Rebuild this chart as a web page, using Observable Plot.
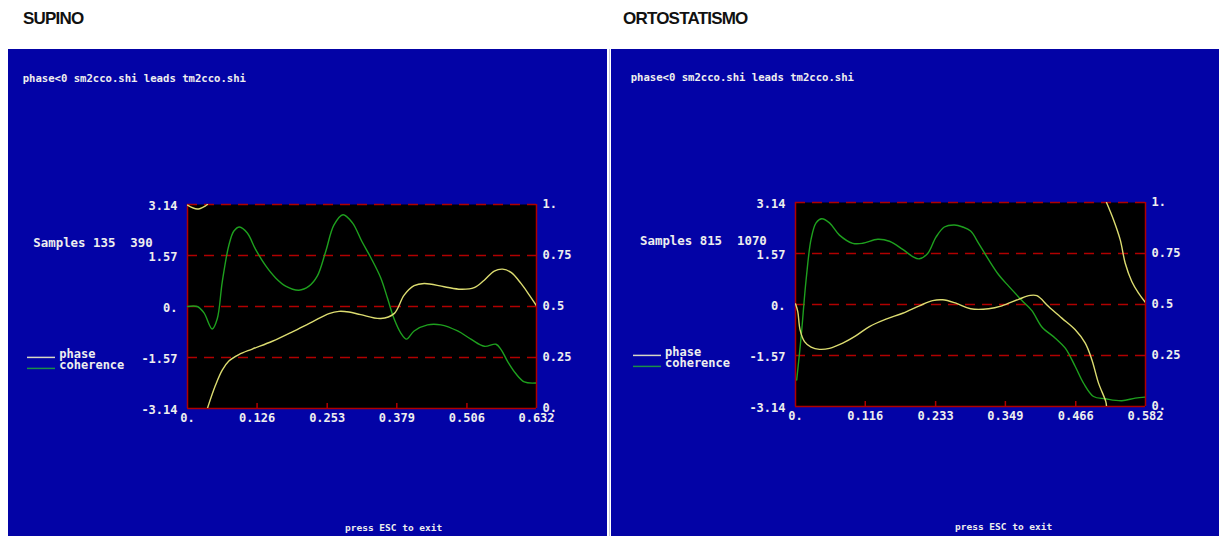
<!DOCTYPE html>
<html>
<head>
<meta charset="utf-8">
<script src="https://cdn.jsdelivr.net/npm/d3@7"></script>
<script src="https://cdn.jsdelivr.net/npm/@observablehq/plot@0.6"></script>
<style>
  html, body { margin: 0; padding: 0; background: #ffffff; }
  #page { position: relative; width: 1219px; height: 536px; overflow: hidden; background: #ffffff; }
  .title {
    position: absolute; top: 9px; line-height: 20px;
    font-family: "Liberation Sans", Arial, sans-serif; font-weight: bold;
    font-size: 17px; letter-spacing: -0.8px; color: #111111;
  }
  .panel { position: absolute; top: 49px; height: 487px; background: #0303a6; }
  .panel svg { display: block; }
  #divider { position: absolute; left: 609px; top: 49px; width: 1px; height: 487px; background: #c9c9d6; }
</style>
</head>
<body>
<div id="page">
  <div class="title" style="left:23px">SUPINO</div>
  <div class="title" style="left:623px">ORTOSTATISMO</div>
  <div class="panel" id="supino" style="left:8px;width:599px"></div>
  <div id="divider"></div>
  <div class="panel" id="orto" style="left:611px;width:608px"></div>
</div>
<script>
// ---- shared axis ticks ----
const phaseTicks = [3.14, 1.57, 0, -1.57, -3.14];
const phaseLabels = ["3.14", "1.57", "0.", "-1.57", "-3.14"];
const cohTicks = [1, 0.75, 0.5, 0.25, 0];
const cohLabels = ["1.", "0.75", "0.5", "0.25", "0."];

// ---- SUPINO (samples 135-390) ----
const supinoXTicks = [0, 0.126, 0.253, 0.379, 0.506, 0.632];
const supinoXLabels = ["0.", "0.126", "0.253", "0.379", "0.506", "0.632"];
// phase wraps from +pi to -pi near the start; null splits the trace
const supinoPhaseFreq = [0, 0.0176, 0.0326, 0.036, 0.036, 0.036, 0.0508, 0.0629, 0.0749, 0.0930, 0.1173,
  0.1536, 0.1899, 0.2261, 0.2562, 0.2744, 0.2925, 0.3137, 0.3500, 0.3741, 0.3923,
  0.4104, 0.4285, 0.4648, 0.4951, 0.5192, 0.5374, 0.5555, 0.5707, 0.5859, 0.6039, 0.6190, 0.632];
const supinoPhase = [3.12, 3.00, 3.10, 3.14, null, -3.14, -2.42, -1.96, -1.68, -1.48, -1.31,
  -1.07, -0.78, -0.47, -0.22, -0.15, -0.17, -0.25, -0.37, -0.22, 0.35,
  0.64, 0.71, 0.61, 0.53, 0.58, 0.81, 1.09, 1.15, 1.05, 0.71, 0.35, 0.02];
const supinoCohFreq = [0, 0.0176, 0.0296, 0.0448, 0.0539, 0.0629, 0.0749, 0.0840, 0.0943, 0.1083,
  0.1233, 0.1415, 0.1596, 0.1777, 0.2018, 0.2200, 0.2352, 0.2503, 0.2653, 0.2816,
  0.2987, 0.3156, 0.3319, 0.3500, 0.3622, 0.3741, 0.3863, 0.3966, 0.4104, 0.4347,
  0.4588, 0.4891, 0.5132, 0.5374, 0.5586, 0.5676, 0.5798, 0.5948, 0.6099, 0.632];
const supinoCoh = [0.50, 0.50, 0.47, 0.39, 0.44, 0.62, 0.80, 0.87, 0.89, 0.86,
  0.78, 0.70, 0.64, 0.60, 0.58, 0.60, 0.65, 0.77, 0.90, 0.95,
  0.91, 0.82, 0.74, 0.64, 0.54, 0.44, 0.37, 0.34, 0.38, 0.41,
  0.41, 0.38, 0.34, 0.305, 0.315, 0.29, 0.23, 0.17, 0.13, 0.125];

// ---- ORTOSTATISMO (samples 815-1070) ----
const ortoXTicks = [0, 0.116, 0.233, 0.349, 0.466, 0.582];
const ortoXLabels = ["0.", "0.116", "0.233", "0.349", "0.466", "0.582"];
const ortoPhaseFreq = [0, 0.0038, 0.0076, 0.0150, 0.0259, 0.0399, 0.0565, 0.0786, 0.1007, 0.1229,
  0.1505, 0.1783, 0.2060, 0.2281, 0.2447, 0.2668, 0.2912, 0.3211, 0.3432, 0.3710,
  0.3904, 0.4014, 0.4208, 0.4429, 0.4652, 0.4818, 0.4928, 0.5039, 0.5160, 0.5172,
  0.5172, 0.5172, 0.5288, 0.5400, 0.5483, 0.5592, 0.5704, 0.582];
const ortoPhase = [0.02, -0.22, -0.78, -1.14, -1.31, -1.38, -1.35, -1.19, -0.96, -0.68,
  -0.45, -0.27, -0.04, 0.12, 0.145, 0.04, -0.13, -0.13, -0.04, 0.16,
  0.28, 0.27, -0.06, -0.42, -0.78, -1.19, -1.70, -2.42, -2.99, -3.14,
  null, 3.14, 2.61, 1.99, 1.27, 0.71, 0.35, 0.06];
const ortoCohFreq = [0.002, 0.0093, 0.0176, 0.0259, 0.0342, 0.0437, 0.0565, 0.0731, 0.0952, 0.1118,
  0.1367, 0.1562, 0.1783, 0.1949, 0.2060, 0.2198, 0.2336, 0.2475, 0.2642, 0.2780,
  0.2912, 0.3045, 0.3211, 0.3378, 0.3544, 0.3765, 0.3931, 0.4097, 0.4320, 0.4486,
  0.4652, 0.4790, 0.4956, 0.5150, 0.5426, 0.5649, 0.582];
const ortoCoh = [0.13, 0.34, 0.62, 0.82, 0.90, 0.92, 0.90, 0.84, 0.80, 0.80,
  0.82, 0.81, 0.77, 0.735, 0.724, 0.75, 0.83, 0.88, 0.89, 0.88,
  0.86, 0.80, 0.72, 0.646, 0.59, 0.52, 0.47, 0.39, 0.335, 0.286,
  0.196, 0.114, 0.049, 0.038, 0.028, 0.041, 0.046];

// ---- styling ----
const BLUE = "#0303a6";
const RED = "#b00000";
const YELLOW = "#dcdc70";
const GREEN = "#1ea01e";
const TEXT = "#eeeeee";
const MONO = "'DejaVu Sans Mono', monospace";
const PHASE_MIN = -3.14, PHASE_MAX = 3.14;

// coherence (0..1) is drawn against the phase scale, with its own axis on the right
const cohToPhase = c => PHASE_MIN + c * (PHASE_MAX - PHASE_MIN);

function drawPanel(el, cfg) {
  const frameH = cfg.height - cfg.marginTop - cfg.marginBottom;
  const xMax = cfg.xTicks[cfg.xTicks.length - 1];
  const xLabel = new Map(cfg.xTicks.map((t, i) => [t, cfg.xLabels[i]]));
  const yLabel = new Map(phaseTicks.map((t, i) => [t, phaseLabels[i]]));
  const cohPos = cohTicks.map(cohToPhase);
  const cLabel = new Map(cohPos.map((t, i) => [t, cohLabels[i]]));

  const svg = Plot.plot({
    width: cfg.width,
    height: cfg.height,
    marginLeft: cfg.marginLeft,
    marginRight: cfg.marginRight,
    marginTop: cfg.marginTop,
    marginBottom: cfg.marginBottom,
    style: {background: BLUE, color: TEXT, fontFamily: MONO, fontWeight: "bold", fontSize: "12px", overflow: "visible"},
    x: {domain: [0, xMax]},
    y: {domain: [PHASE_MIN, PHASE_MAX]},
    marks: [
      Plot.frame({fill: "black"}),
      Plot.ruleY(phaseTicks.slice(0, -1), {stroke: RED, strokeWidth: 1.5, strokeDasharray: "10,7"}),
      Plot.ruleY([PHASE_MIN], {stroke: RED, strokeWidth: 1.5}),
      Plot.ruleX([0, xMax], {stroke: RED, strokeWidth: 1.5}),
      Plot.ruleX(cfg.xTicks.slice(1, -1), {stroke: RED, strokeWidth: 1.5, insetTop: frameH - 5}),
      Plot.line(d3.range(cfg.cohFreq.length), {
        x: i => cfg.cohFreq[i], y: i => cohToPhase(cfg.coh[i]),
        stroke: GREEN, strokeWidth: 1.4, curve: "catmull-rom", clip: true
      }),
      Plot.line(d3.range(cfg.phaseFreq.length), {
        x: i => cfg.phaseFreq[i], y: i => cfg.phase[i],
        stroke: YELLOW, strokeWidth: 1.4, curve: "catmull-rom", clip: true
      }),
      Plot.axisX(cfg.xTicks, {tickFormat: d => xLabel.get(d), tickSize: 0, tickPadding: 5, label: null}),
      Plot.axisY(phaseTicks, {anchor: "left", tickFormat: d => yLabel.get(d), tickSize: 0, tickPadding: 10, dy: 2, label: null}),
      Plot.axisY(cohPos, {anchor: "right", tickFormat: d => cLabel.get(d), tickSize: 0, tickPadding: 6, dy: 0, label: null})
    ]
  });

  // header, sample range, legend and footer
  const g = d3.select(svg).append("g")
    .attr("font-family", MONO).attr("font-weight", "bold").attr("fill", TEXT)
    .attr("text-anchor", "start");
  g.append("text").attr("x", cfg.header[0]).attr("y", cfg.header[1])
    .attr("font-size", 10.6).text("phase<0 sm2cco.shi leads tm2cco.shi");
  g.append("text").attr("x", cfg.samples[0]).attr("y", cfg.samples[1])
    .attr("font-size", 12.4).style("white-space", "pre")
    .text(cfg.samplesText);
  const legend = [["phase", "#d8d8c4"], ["coherence", "#1a9048"]];
  legend.forEach(([name, color], k) => {
    const ly = cfg.legend[1] + k * cfg.legend[3];
    g.append("line").attr("x1", cfg.legend[0]).attr("x2", cfg.legend[0] + 28)
      .attr("y1", ly - 0.8).attr("y2", ly - 0.8).attr("stroke", color).attr("stroke-width", 1.5);
    g.append("text").attr("x", cfg.legend[2]).attr("y", ly).attr("font-size", 12).text(name);
  });
  g.append("text").attr("x", cfg.footer[0]).attr("y", cfg.footer[1])
    .attr("font-size", 9.5).text("press ESC to exit");

  el.appendChild(svg);
}

drawPanel(document.getElementById("supino"), {
  width: 599, height: 487, marginLeft: 179, marginRight: 71, marginTop: 155, marginBottom: 128,
  xTicks: supinoXTicks, xLabels: supinoXLabels,
  phaseFreq: supinoPhaseFreq, phase: supinoPhase, cohFreq: supinoCohFreq, coh: supinoCoh,
  header: [14.7, 33], samples: [25.3, 197.5], samplesText: "Samples 135  390",
  legend: [19, 309.2, 51.3, 11], footer: [337, 482]
});

drawPanel(document.getElementById("orto"), {
  width: 608, height: 487, marginLeft: 184, marginRight: 74, marginTop: 153, marginBottom: 130,
  xTicks: ortoXTicks, xLabels: ortoXLabels,
  phaseFreq: ortoPhaseFreq, phase: ortoPhase, cohFreq: ortoCohFreq, coh: ortoCoh,
  header: [19.7, 32], samples: [29, 195.5], samplesText: "Samples 815  1070",
  legend: [22, 307.2, 54, 11], footer: [344, 481]
});
</script>
</body>
</html>
